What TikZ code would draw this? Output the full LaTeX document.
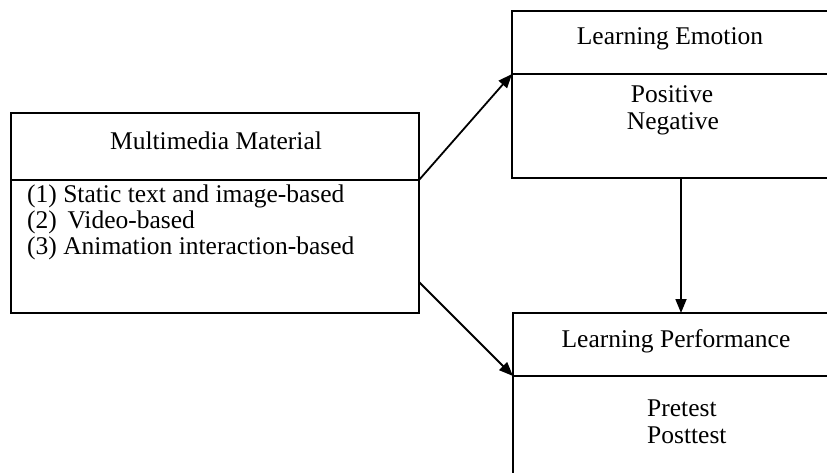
\documentclass[tikz,border=0pt]{standalone}
\usepackage{fontspec}
\setmainfont{Liberation Serif}
\usetikzlibrary{arrows.meta}
\begin{document}
\begin{tikzpicture}[x=1pt,y=1pt,
  box/.style={draw, line width=1.8pt, inner sep=0pt},
  lab/.style={font=\fontsize{25.5}{26}\selectfont, inner sep=0pt},
  conn/.style={line width=1.8pt, -{Triangle[length=14pt,width=11pt]}}]
\useasboundingbox (0,0) rectangle (827,472);
\clip (0,0) rectangle (827,472);
\fill[white] (0,0) rectangle (827,472);
% boxes
\node[box, minimum width=408pt, minimum height=200pt] (mm) at (215,259) {};
\node[box, minimum width=318pt, minimum height=167pt] (em) at (671,377.5) {};
\node[box, minimum width=317pt, minimum height=170pt] (pf) at (671.5,74) {};
% dividers
\draw[line width=1.8pt] (mm.west |- 0,292) -- (mm.east |- 0,292);
\draw[line width=1.8pt] (em.west |- 0,398) -- (em.east |- 0,398);
\draw[line width=1.8pt] (pf.west |- 0,96) -- (pf.east |- 0,96);
% texts
\node[lab] (mmt) at (216,331) {Multimedia Material};
\node[lab, anchor=west] (l1) at (27,276) {(1) Static text and image-based};
\node[lab, anchor=west] (l2) at (27,250) {(2)\, Video-based};
\node[lab, anchor=west] (l3) at (27,224) {(3) Animation interaction-based};
\node[lab] (emt) at (670,433) {Learning Emotion};
\node[lab] (pos) at (672,378) {Positive};
\node[lab] (neg) at (673,348) {Negative};
\node[lab] (pft) at (676,131) {Learning Performance};
\node[lab, anchor=west] (pre) at (647,64) {Pretest};
\node[lab, anchor=west] (post) at (647,37) {Posttest};
% connector endpoints
\coordinate (a1) at (419,292);
\coordinate (a2) at (512,398);
\coordinate (b1) at (419,190);
\coordinate (b2) at (513,96);
\coordinate (c1) at (681,294);
\coordinate (c2) at (681,159);
\draw[conn] (a1) -- (a2);
\draw[conn] (b1) -- (b2);
\draw[conn] (c1) -- (c2);
\end{tikzpicture}
\end{document}
